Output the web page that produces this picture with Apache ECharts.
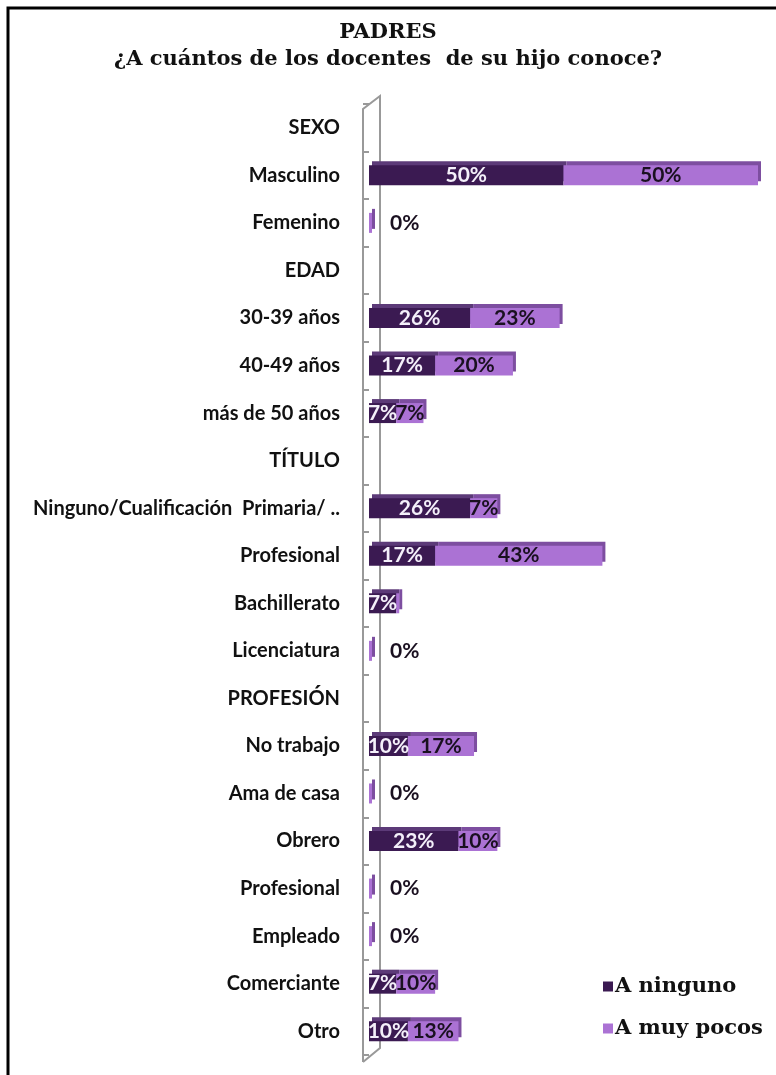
<!DOCTYPE html>
<html>
<head>
<meta charset="utf-8">
<script src="https://cdn.jsdelivr.net/npm/echarts@6/dist/echarts.min.js"></script>
<style>
  html, body { margin: 0; padding: 0; background: #fff; }
  #chart { width: 776px; height: 1075px; }
</style>
</head>
<body>
<div id="chart"></div>
<script>
// categorias (de arriba a abajo)
var categorias = ['SEXO', 'Masculino', 'Femenino', 'EDAD', '30-39 años', '40-49 años', 'más de 50 años',
    'TÍTULO', 'Ninguno/Cualificación  Primaria/ ..', 'Profesional', 'Bachillerato', 'Licenciatura',
    'PROFESIÓN', 'No trabajo', 'Ama de casa', 'Obrero', 'Profesional', 'Empleado', 'Comerciante', 'Otro'];

// porcentajes por serie ('-' = fila de título, sin barra)
var aNinguno  = ['-', 50, 0, '-', 26, 17, 7, '-', 26, 17, 7, 0, '-', 10, 0, 23, 0, 0, 7, 10];
var aMuyPocos = ['-', 50, 0, '-', 23, 20, 7, '-', 7, 43, 0, 0, '-', 17, 0, 10, 0, 0, 10, 13];

var colorNinguno = '#3b1a52';
var colorPocos = '#ab72d4';

var myChart = echarts.init(document.getElementById('chart'));

// serie oscura: etiqueta solo si > 0
var dataNinguno = aNinguno.map(function (v) {
    if (v === '-') return '-';
    return { value: v, label: { show: v > 0 } };
});

// serie clara: "0%" a la derecha cuando toda la fila es 0
var dataPocos = aMuyPocos.map(function (v, i) {
    if (v === '-') return '-';
    if (v > 0) return { value: v };
    if (aNinguno[i] === 0) {
        return { value: v, label: { show: true, position: 'right', distance: 18 } };
    }
    return { value: v, label: { show: false } };
});

var option = {
    animation: false,
    title: {
        text: 'PADRES\n¿A cuántos de los docentes  de su hijo conoce?',
        left: 'center',
        top: 14,
        textStyle: {
            fontFamily: 'DejaVu Serif',
            fontWeight: 'bold',
            fontSize: 21,
            lineHeight: 27,
            color: '#111'
        }
    },
    legend: {
        orient: 'vertical',
        left: 598,
        top: 971,
        itemWidth: 10,
        itemHeight: 10,
        itemGap: 21,
        icon: 'rect',
        textStyle: {
            fontFamily: 'DejaVu Serif',
            fontWeight: 'bold',
            fontSize: 21,
            color: '#111',
            padding: [0, 0, 0, -3]
        },
        data: ['A ninguno', 'A muy pocos']
    },
    grid: {
        left: 369,
        right: 18,
        top: 104,
        bottom: 20
    },
    xAxis: {
        type: 'value',
        min: 0,
        max: 100,
        show: false
    },
    yAxis: {
        type: 'category',
        inverse: true,
        data: categorias,
        offset: 6,
        axisLine: { show: false },
        axisTick: { show: true, length: 6, lineStyle: { color: '#999', width: 2 } },
        axisLabel: {
            margin: 23,
            fontFamily: 'Lato',
            fontWeight: 'bold',
            fontSize: 20,
            color: '#111',
            padding: [14, 0, 0, 0]
        }
    },
    graphic: [
        // marco
        { type: 'rect', shape: { x: 8, y: 8, width: 900, height: 1200 }, style: { fill: 'none', stroke: '#000', lineWidth: 3 } },
        // pared 3D
        { type: 'polyline', shape: { points: [[363, 1062], [363, 109], [380, 96], [380, 1048], [363, 1062]] },
          style: { fill: 'none', stroke: '#999', lineWidth: 2 }, z: 0 }
    ],
    series: [
        {
            name: 'A ninguno',
            type: 'bar',
            stack: 'total',
            barWidth: 20,
            data: dataNinguno,
            itemStyle: {
                color: colorNinguno,
                shadowColor: '#5c3a78',
                shadowOffsetX: 3,
                shadowOffsetY: -4
            },
            label: {
                show: true,
                position: 'inside',
                formatter: '{c}%',
                fontFamily: 'Lato',
                fontWeight: 'bold',
                fontSize: 21,
                color: '#f4f0fa'
            }
        },
        {
            name: 'A muy pocos',
            type: 'bar',
            stack: 'total',
            barWidth: 20,
            barMinHeight: 3,
            data: dataPocos,
            itemStyle: {
                color: colorPocos,
                shadowColor: '#7d4ea0',
                shadowOffsetX: 3,
                shadowOffsetY: -4
            },
            label: {
                show: true,
                position: 'inside',
                formatter: '{c}%',
                fontFamily: 'Lato',
                fontWeight: 'bold',
                fontSize: 21,
                color: '#1a1020'
            }
        }
    ]
};

myChart.setOption(option);
</script>
</body>
</html>
